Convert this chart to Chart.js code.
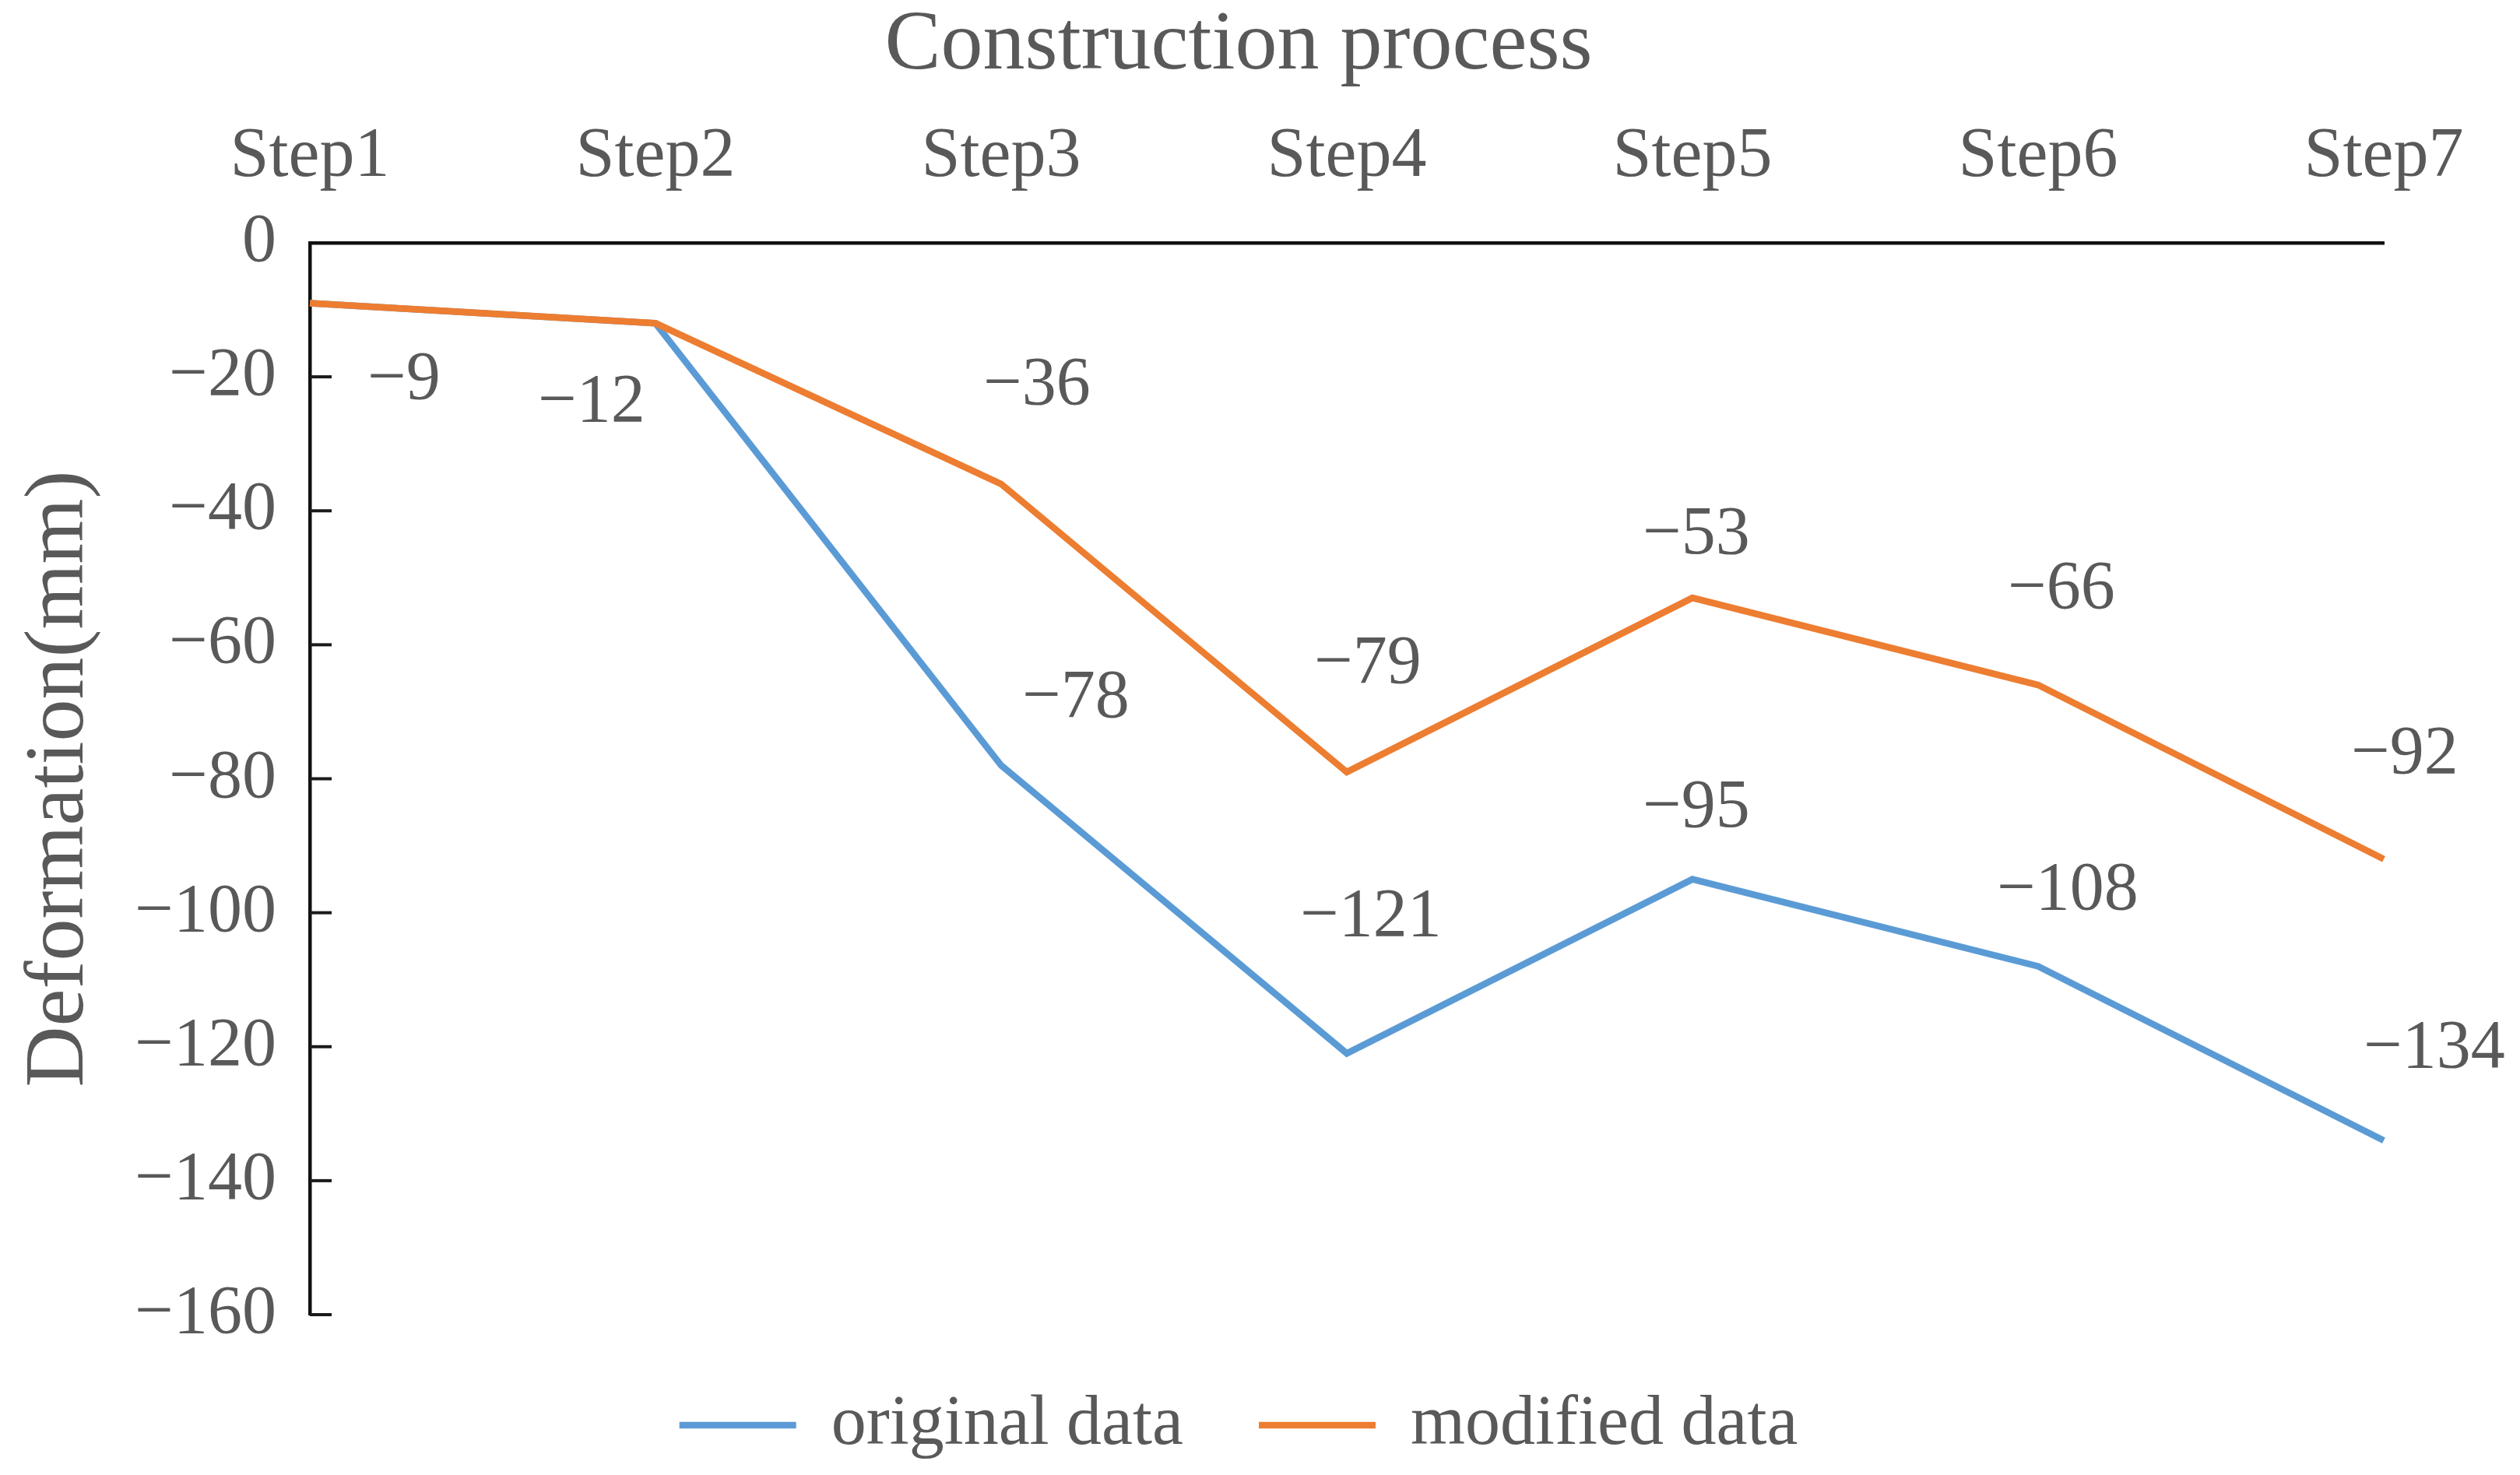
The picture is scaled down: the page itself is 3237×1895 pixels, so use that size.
<!DOCTYPE html>
<html>
<head>
<meta charset="utf-8">
<script src="https://cdn.jsdelivr.net/npm/chart.js@4.4.1/dist/chart.umd.min.js"></script>
<style>
    html, body { margin: 0; padding: 0; background: #fff; }
    #wrap { width: 3237px; height: 1895px; position: relative; }
</style>
</head>
<body>
<div id="wrap"><canvas id="deformation_graph"></canvas></div>
<script>
const steps = ['Step1', 'Step2', 'Step3', 'Step4', 'Step5', 'Step6', 'Step7'];
const originalData = [-9, -12, -78, -121, -95, -108, -134];
const modifiedData = [-9, -12, -36, -79, -53, -66, -92];
const yTicks = [0, -20, -40, -60, -80, -100, -120, -140, -160];

// where each value label sits relative to its point (px), null = no label
const originalLabelShift = [[121, 99], [-82, 103], [96, -85], [31, -174], [5, -91], [38, -97], [65, -117]];
const modifiedLabelShift = [null, null, [46, -126], [27, -138], [5, -80], [30, -122], [27, -134]];

const textColor = '#595959';
const serif = "'Liberation Serif', 'Times New Roman', serif";

function minusText(v) {
    return v < 0 ? '\u2212' + Math.abs(v) : String(v);
}

// value labels next to the points
const valueLabels = {
    id: 'valueLabels',
    afterDatasetsDraw: function (chart) {
        const ctx = chart.ctx;
        const shifts = [originalLabelShift, modifiedLabelShift];
        ctx.save();
        ctx.font = '88px ' + serif;
        ctx.fillStyle = textColor;
        ctx.textAlign = 'center';
        ctx.textBaseline = 'middle';
        chart.data.datasets.forEach(function (ds, di) {
            const meta = chart.getDatasetMeta(di);
            meta.data.forEach(function (pt, i) {
                const s = shifts[di][i];
                if (!s) {
                    return;
                }
                ctx.fillText(minusText(ds.data[i]), pt.x + s[0], pt.y + s[1]);
            });
        });
        ctx.restore();
    }
};

// tick marks pointing into the plot on the y axis
const innerTicks = {
    id: 'innerTicks',
    afterDraw: function (chart) {
        const ctx = chart.ctx;
        const y = chart.scales.y;
        const left = chart.chartArea.left;
        ctx.save();
        ctx.strokeStyle = '#1a1a1a';
        ctx.lineWidth = 4;
        yTicks.forEach(function (v) {
            if (v === 0) {
                return;
            }
            const py = y.getPixelForValue(v);
            ctx.beginPath();
            ctx.moveTo(left, py);
            ctx.lineTo(left + 28, py);
            ctx.stroke();
        });
        ctx.restore();
    }
};

const graph = document.getElementById('deformation_graph');
new Chart(graph, {
    type: 'line',
    data: {
        labels: steps,
        datasets: [{
            label: 'original data',
            data: originalData,
            borderColor: '#5B9BD5',
            backgroundColor: '#5B9BD5',
            borderWidth: 8.5,
            pointRadius: 0,
            tension: 0,
            fill: false,
            order: 2
        }, {
            label: 'modified data',
            data: modifiedData,
            borderColor: '#ED7D31',
            backgroundColor: '#ED7D31',
            borderWidth: 8.5,
            pointRadius: 0,
            tension: 0,
            fill: false,
            order: 1
        }]
    },
    options: {
        responsive: true,
        maintainAspectRatio: false,
        animation: false,
        devicePixelRatio: 1,
        layout: {
            padding: { left: 120, top: 0, right: 175, bottom: 9 }
        },
        plugins: {
            tooltip: { enabled: false },
            title: {
                display: true,
                text: 'Construction process',
                color: textColor,
                font: { family: serif, size: 108, weight: 'normal', lineHeight: 1.1 },
                padding: { top: 0, bottom: 0 }
            },
            legend: {
                display: true,
                position: 'bottom',
                labels: {
                    color: textColor,
                    font: { family: serif, size: 90 },
                    usePointStyle: true,
                    pointStyle: 'line',
                    pointStyleWidth: 150,
                    padding: 97,
                    sort: function (a, b) {
                        return a.datasetIndex - b.datasetIndex;
                    }
                }
            }
        },
        scales: {
            x: {
                position: 'top',
                offset: false,
                afterFit: function (scale) {
                    scale.height = 312 - 118.8;
                },
                grid: {
                    display: true,
                    drawOnChartArea: false,
                    drawTicks: false
                },
                border: {
                    display: true,
                    color: '#111',
                    width: 4.5
                },
                ticks: {
                    color: textColor,
                    font: { family: serif, size: 90 },
                    padding: 56,
                    maxRotation: 0,
                    autoSkip: false
                }
            },
            y: {
                min: -160,
                max: 0,
                afterFit: function (scale) {
                    scale.width = 278;
                },
                grid: {
                    display: true,
                    drawOnChartArea: false,
                    drawTicks: false
                },
                border: {
                    display: true,
                    color: '#111',
                    width: 4.5
                },
                ticks: {
                    stepSize: 20,
                    color: textColor,
                    font: { family: serif, size: 88 },
                    padding: 43,
                    callback: function (value) {
                        return minusText(value);
                    }
                },
                title: {
                    display: true,
                    text: 'Deformation(mm)',
                    color: textColor,
                    font: { family: serif, size: 108 },
                    padding: { top: -107, bottom: 0 }
                }
            }
        }
    },
    plugins: [valueLabels, innerTicks]
});
</script>
</body>
</html>
